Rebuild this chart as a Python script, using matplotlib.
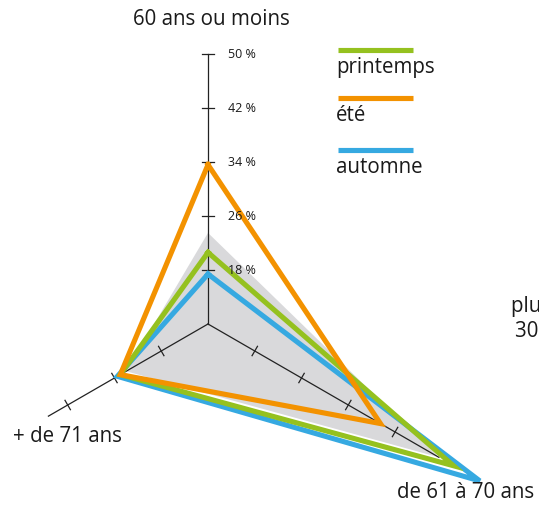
import numpy as np
import matplotlib
matplotlib.use('Agg')
import matplotlib.pyplot as plt

plt.rcParams['font.family'] = ['Open Sans', 'DejaVu Sans']

# axes du radar (haut, bas-droite, bas-gauche)
axes_labels = ['60 ans ou moins', 'de 61 à 70 ans', '+ de 71 ans']
angles = np.deg2rad([90, -30, 210])
r0 = 10  # valeur au centre (%)

# valeurs en %
moyenne = [23.5, 49.5, 24]
printemps = [20.6, 52, 25]
ete = [33.6, 39.5, 25]
automne = [17.4, 56.5, 25.5]

ticks = [18, 26, 34, 42, 50]
tick_labels = ['18 %', '26 %', '34 %', '42 %', '50 %']
axis_max = [50, 49.5, 37.3]

c_green = '#95c11f'
c_orange = '#f39200'
c_blue = '#36a9e1'
c_gray = '#d9d9db'

# pixel -> unites (6.75 px par %), centre a (208, 325)
s = 6.75
cx, cy = 208, 325
W, H = 539, 506


def P(x, y):
    return (x - cx) / s, (cy - y) / s


def xy(vals):
    r = np.array(vals) - r0
    x = r * np.cos(angles)
    y = r * np.sin(angles)
    return np.append(x, x[0]), np.append(y, y[0])


fig = plt.figure(figsize=(W / 100, H / 100), dpi=100)
ax = fig.add_axes([0, 0, 1, 1])
ax.set_xlim(-cx / s, (W - cx) / s)
ax.set_ylim(-(H - cy) / s, cy / s)
ax.axis('off')

x, y = xy(moyenne)
ax.fill(x, y, color=c_gray, lw=0, zorder=1)

# axes + graduations
for a, m in zip(angles, axis_max):
    ax.plot([0, (m - r0) * np.cos(a)], [0, (m - r0) * np.sin(a)], color='#222222', lw=0.9, zorder=2)
    px, py = -np.sin(a), np.cos(a)
    for t in ticks:
        if t > m + 0.1:
            continue
        tx, ty = (t - r0) * np.cos(a), (t - r0) * np.sin(a)
        hl = 0.95 if a == angles[0] else 0.8
        ax.plot([tx - hl * px, tx + hl * px], [ty - hl * py, ty + hl * py], color='#222222', lw=0.9, zorder=2)

for t, lab in zip(ticks, tick_labels):
    ax.text(20 / s, t - r0, lab, fontsize=9, va='center', ha='left', color='#1a1a1a', zorder=5)

for vals, col in [(automne, c_blue), (printemps, c_green), (ete, c_orange)]:
    x, y = xy(vals)
    ax.plot(x, y, color=col, lw=3.7, solid_joinstyle='miter', zorder=3)

# etiquettes
fs = 14.8
ax.text(*P(211, 20), axes_labels[0], fontsize=fs, ha='center', va='center', color='#1a1a1a')
ax.text(*P(466, 493), axes_labels[1], fontsize=fs, ha='center', va='center', color='#1a1a1a')
ax.text(*P(67, 437), axes_labels[2], fontsize=fs, ha='center', va='center', color='#1a1a1a')
ax.text(*P(546, 319), 'plus de\n30 ans', fontsize=fs, ha='center', va='center', color='#1a1a1a',
        linespacing=1.3)

# legende
leg = [('printemps', c_green, 51), ('été', c_orange, 99), ('automne', c_blue, 151)]
for name, col, ly in leg:
    x0, y0 = P(338, ly)
    x1, _ = P(413, ly)
    ax.plot([x0, x1], [y0, y0], color=col, lw=3.7, solid_capstyle='butt')
    ax.text(*P(336, ly + 17), name, fontsize=fs, ha='left', va='center', color='#1a1a1a')

fig.savefig('out.png', dpi=100)
